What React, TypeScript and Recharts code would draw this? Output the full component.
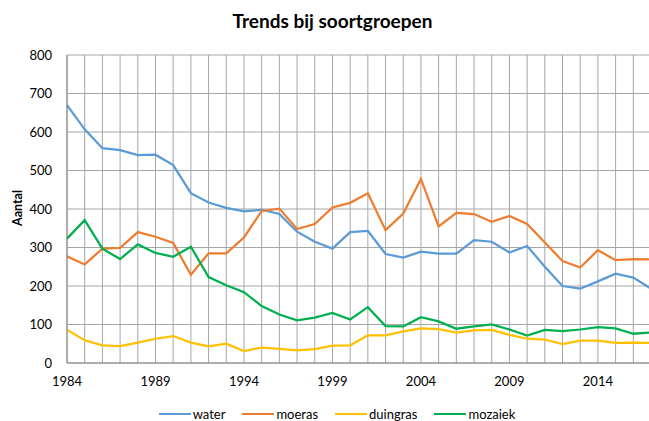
import { LineChart, Line, XAxis, YAxis, CartesianGrid } from 'recharts'

const YEARS = [
  1984, 1985, 1986, 1987, 1988, 1989, 1990, 1991, 1992, 1993, 1994, 1995, 1996, 1997, 1998, 1999, 2000,
  2001, 2002, 2003, 2004, 2005, 2006, 2007, 2008, 2009, 2010, 2011, 2012, 2013, 2014, 2015, 2016, 2017,
]
const WATER = [
  670, 607, 558, 553, 540, 541, 514, 441, 417, 403, 394, 398, 387, 341, 315, 297, 340,
  343, 283, 274, 289, 284, 284, 319, 315, 287, 304, 250, 200, 193, 212, 232, 222, 193,
]
const MOERAS = [
  277, 256, 297, 299, 340, 328, 312, 229, 285, 285, 326, 395, 401, 348, 361, 404, 416,
  441, 345, 388, 478, 355, 390, 387, 367, 382, 361, 313, 265, 248, 293, 267, 270, 269,
]
const DUINGRAS = [
  86, 59, 46, 44, 53, 63, 70, 53, 43, 50, 31, 40, 37, 33, 36, 45, 46,
  72, 72, 82, 90, 88, 79, 85, 86, 73, 63, 61, 49, 58, 58, 52, 53, 52,
]
const MOZAIEK = [
  323, 371, 297, 270, 308, 286, 276, 302, 223, 202, 184, 148, 126, 111, 118, 130, 113,
  145, 96, 95, 119, 108, 89, 95, 100, 87, 71, 86, 83, 87, 93, 90, 76, 79,
]
const Y_TICKS = [0, 100, 200, 300, 400, 500, 600, 700, 800]
const X_LABELS = [1984, 1989, 1994, 1999, 2004, 2009, 2014]

const SERIES = [
  { key: 'water', color: '#5B9BD5' },
  { key: 'moeras', color: '#ED7D31' },
  { key: 'duingras', color: '#FFC000' },
  { key: 'mozaiek', color: '#00B050' },
]

const data = YEARS.map((year, i) => ({
  year,
  water: WATER[i],
  moeras: MOERAS[i],
  duingras: DUINGRAS[i],
  mozaiek: MOZAIEK[i],
}))

const FONT = 'Lato, "Open Sans", sans-serif'
const tickStyle = { fill: '#000', fontSize: 13, fontFamily: FONT }

export default function App() {
  return (
    <div
      style={{
        position: 'fixed',
        left: 0,
        top: 0,
        width: 649,
        height: 421,
        overflow: 'hidden',
        background: '#fff',
        fontFamily: FONT,
      }}
    >
      <div
        style={{
          position: 'absolute',
          top: 9,
          left: 0,
          width: 665,
          textAlign: 'center',
          fontWeight: 700,
          fontSize: 19,
        }}
      >
        Trends bij soortgroepen
      </div>
      <div
        style={{
          position: 'absolute',
          left: 17,
          top: 208,
          transform: 'translate(-50%, -50%) rotate(-90deg)',
          fontWeight: 700,
          fontSize: 12.5,
        }}
      >
        Aantal
      </div>
      <LineChart width={651} height={421} data={data} margin={{ top: 55, right: 0, bottom: 38, left: 0 }}>
        <CartesianGrid stroke="#a6a6a6" strokeWidth={1} />
        <XAxis
          dataKey="year"
          type="number"
          domain={[1984, 2017]}
          ticks={YEARS}
          interval={0}
          tickFormatter={(v: number) => (X_LABELS.includes(v) ? String(v) : '')}
          tick={tickStyle}
          tickLine={false}
          tickSize={0}
          tickMargin={14}
          axisLine={{ stroke: '#868686' }}
          height={20}
        />
        <YAxis
          domain={[0, 800]}
          ticks={Y_TICKS}
          tick={tickStyle}
          tickLine={false}
          tickSize={0}
          tickMargin={15}
          axisLine={{ stroke: '#868686' }}
          width={67}
        />
        {SERIES.map((s) => (
          <Line
            key={s.key}
            dataKey={s.key}
            stroke={s.color}
            strokeWidth={2.25}
            dot={false}
            type="linear"
            isAnimationActive={false}
          />
        ))}
      </LineChart>
      <div
        style={{
          position: 'absolute',
          top: 408,
          left: 0,
          width: 674,
          display: 'flex',
          justifyContent: 'center',
          fontSize: 13,
          lineHeight: '12px',
          gap: 17,
        }}
      >
        {SERIES.map((s) => (
          <div key={s.key} style={{ display: 'flex', alignItems: 'center', gap: 2 }}>
            <span style={{ display: 'inline-block', width: 32, height: 2.5, background: s.color }} />
            <span>{s.key}</span>
          </div>
        ))}
      </div>
    </div>
  )
}
